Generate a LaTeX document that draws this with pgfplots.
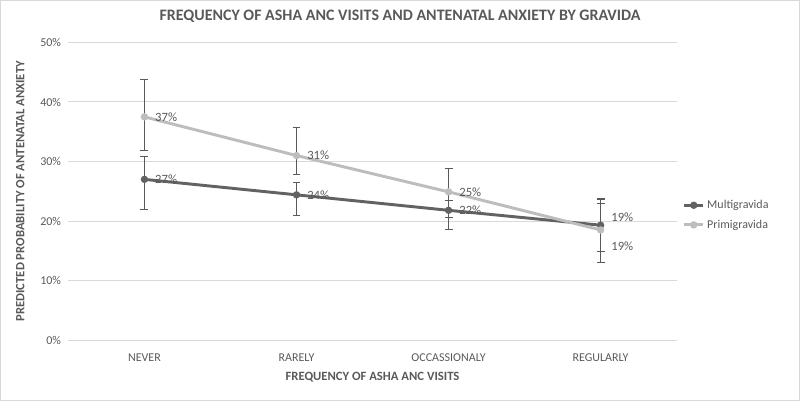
\documentclass[border=0pt]{standalone}
\usepackage{pgfplots}
\pgfplotsset{compat=1.18}
\usepackage{pgfplotstable}
\usepackage{fontspec}
\setmainfont{Carlito}
\definecolor{txt}{HTML}{595959}
\definecolor{multi}{HTML}{626262}
\definecolor{primi}{HTML}{BDBDBD}
\definecolor{gridc}{HTML}{D9D9D9}
\pgfplotstableread{
x y ep em dy lbl
0 27.0 3.8 5.1 0 27\%
1 24.4 2.0 3.5 0 24\%
2 21.8 1.7 3.2 0 22\%
3 19.3 4.4 4.4 6 19\%
}\multi
\pgfplotstableread{
x y ep em dy lbl
0 37.5 6.2 5.7 0 37\%
1 31.0 4.7 3.15 0 31\%
2 24.9 4.0 4.3 0 25\%
3 18.5 4.5 5.5 -12 19\%
}\primi
\begin{document}
\begin{tikzpicture}
\draw[gridc, line width=0.75pt] (0,0) rectangle (600pt,300pt);
\node[font=\bfseries\fontsize{12}{14}\selectfont, text=txt] at (300pt,288pt) {FREQUENCY OF ASHA ANC VISITS AND ANTENATAL ANXIETY BY GRAVIDA};
\begin{axis}[
  at={(51pt,45pt)}, anchor=south west,
  scale only axis, width=456.75pt, height=223.5pt,
  xmin=-0.5, xmax=3.5, ymin=0, ymax=50,
  xtick={0,1,2,3},
  xticklabels={NEVER,RARELY,OCCASSIONALY,REGULARLY},
  ytick={0,10,20,30,40,50},
  yticklabel={\pgfmathprintnumber{\tick}\%},
  /pgf/number format/assume math mode=true,
  axis line style={draw=none},
  major tick length=0pt,
  ymajorgrids=true, xmajorgrids=false,
  major grid style={color=gridc, line width=0.75pt},
  tick label style={font=\fontsize{9}{10}\selectfont, text=txt},
  xticklabel style={yshift=-7pt},
  yticklabel style={xshift=-2pt},
  xlabel={FREQUENCY OF ASHA ANC VISITS},
  ylabel={PREDICTED PROBABILITY OF ANTENATAL ANXIETY},
  label style={font=\bfseries\fontsize{9.5}{10}\selectfont, text=txt},
  xlabel style={yshift=-0.5pt},
  ylabel style={yshift=5pt},
  legend style={at={(1.01,0.42)}, anchor=west, draw=none, fill=none,
    font=\fontsize{9}{10}\selectfont, text=txt, row sep=3pt,
    inner xsep=0pt},
  legend cell align=left,
  legend image code/.code={\draw[#1] (0pt,0pt) -- (14pt,0pt); \draw[#1,mark repeat=1] plot coordinates {(7pt,0pt)};},
  nodes near coords,
  point meta=explicit symbolic,
  visualization depends on={\thisrow{dy} \as \dy},
  every node near coord/.append style={anchor=west, xshift=6pt, yshift=\dy pt,
    font=\fontsize{9.5}{10}\selectfont, text=txt, inner sep=1pt},
  clip=false,
]
\addplot[multi, line width=2.2pt, mark=*, mark size=1.6pt,
  error bars/.cd, y dir=both, y explicit,
  error bar style={txt, line width=0.8pt},
  error mark options={txt, line width=0.8pt, mark size=3pt, rotate=90}]
  table[x=x, y=y, y error plus=ep, y error minus=em, meta=lbl] {\multi};
\addlegendentry{Multigravida}
\addplot[primi, line width=2.2pt, mark=*, mark size=1.6pt,
  error bars/.cd, y dir=both, y explicit,
  error bar style={txt, line width=0.8pt},
  error mark options={txt, line width=0.8pt, mark size=3pt, rotate=90}]
  table[x=x, y=y, y error plus=ep, y error minus=em, meta=lbl] {\primi};
\addlegendentry{Primigravida}
\end{axis}
\end{tikzpicture}
\end{document}
